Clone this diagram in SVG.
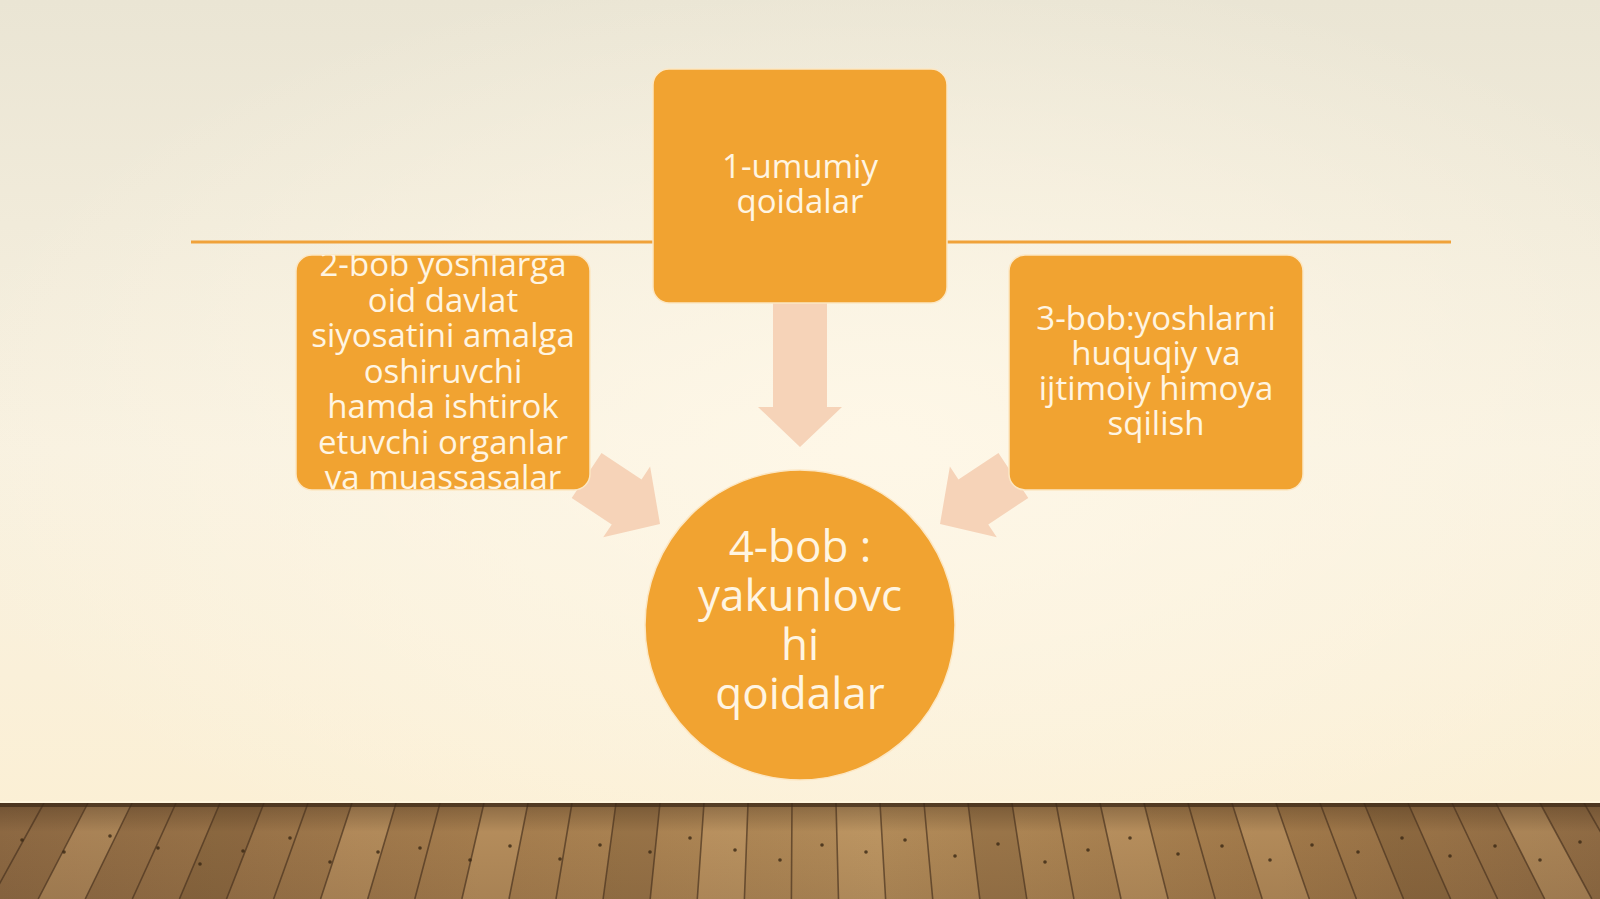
<svg xmlns="http://www.w3.org/2000/svg" width="1600" height="899" viewBox="0 0 1600 899">
<defs>
<linearGradient id="bgLin" x1="0" y1="0" x2="0" y2="1">
<stop offset="0" stop-color="#EAE5D4"/>
<stop offset="0.5" stop-color="#F8F1E0"/>
<stop offset="1" stop-color="#FCEFD2"/>
</linearGradient>
<radialGradient id="bgRad" cx="0.55" cy="0.55" r="0.6">
<stop offset="0" stop-color="#FFF8E8" stop-opacity="0.9"/>
<stop offset="1" stop-color="#FFF8E8" stop-opacity="0"/>
</radialGradient>
<linearGradient id="floor" x1="0" y1="0" x2="1" y2="0">
<stop offset="0" stop-color="#8C6842"/>
<stop offset="0.3" stop-color="#A47C4D"/>
<stop offset="0.55" stop-color="#B18A58"/>
<stop offset="0.8" stop-color="#A07849"/>
<stop offset="1" stop-color="#8E6A43"/>
</linearGradient>
<linearGradient id="floorV" x1="0" y1="0" x2="0" y2="1">
<stop offset="0" stop-color="#3E2A18" stop-opacity="0.35"/>
<stop offset="0.3" stop-color="#3E2A18" stop-opacity="0"/>
<stop offset="1" stop-color="#3E2A18" stop-opacity="0.1"/>
</linearGradient>
<clipPath id="cLeft"><rect x="296" y="255" width="294" height="235" rx="16"/></clipPath>
</defs>
<style>
.box{fill:#F1A331;stroke:#FCE7C4;stroke-width:1.5}
.arrow{fill:#F6D3B8}
.txt{font-family:"Open Sans","Noto Sans","DejaVu Sans",sans-serif;fill:#FFF5E2;text-anchor:middle;font-size:33px}
.big{font-size:44px}
.plank{stroke:#4A3320;stroke-width:1.6;stroke-opacity:0.7;fill:none}
.light{fill:#C7A06C;opacity:0.45}
.dark{fill:#6E4E2E;opacity:0.3}
.nail{fill:#3A2814;opacity:0.8}
</style>

<!-- background -->
<rect x="0" y="0" width="1600" height="899" fill="url(#bgLin)"/>
<rect x="0" y="0" width="1600" height="803" fill="url(#bgRad)"/>

<!-- floor -->
<g id="floor-area">
<rect x="0" y="803" width="1600" height="96" fill="url(#floor)"/>
<polygon class="light" points="88,803 132,803 85.2,899 38.2,899"/>
<polygon class="dark" points="220,803 264,803 226.5,899 179.4,899"/>
<polygon class="light" points="352,803 396,803 367.7,899 320.6,899"/>
<polygon class="light" points="484,803 528,803 509,899 461.9,899"/>
<polygon class="dark" points="616,803 660,803 650.2,899 603.1,899"/>
<polygon class="light" points="704,803 748,803 744.4,899 697.3,899"/>
<polygon class="light" points="836,803 880,803 885.6,899 838.5,899"/>
<polygon class="dark" points="968,803 1012,803 1026.8,899 979.8,899"/>
<polygon class="light" points="1100,803 1144,803 1168.1,899 1121,899"/>
<polygon class="light" points="1232,803 1276,803 1309.3,899 1262.2,899"/>
<polygon class="dark" points="1364,803 1408,803 1450.6,899 1403.5,899"/>
<polygon class="light" points="1496,803 1540,803 1591.8,899 1544.7,899"/>
<rect x="0" y="803" width="1600" height="96" fill="url(#floorV)"/>
<path class="plank" d="M0,803L-56,899M44,803L-8.9,899M88,803L38.2,899M132,803L85.2,899M176,803L132.3,899M220,803L179.4,899M264,803L226.5,899M308,803L273.6,899M352,803L320.6,899M396,803L367.7,899M440,803L414.8,899M484,803L461.9,899M528,803L509,899M572,803L556,899M616,803L603.1,899M660,803L650.2,899M704,803L697.3,899M748,803L744.4,899M792,803L791.4,899M836,803L838.5,899M880,803L885.6,899M924,803L932.7,899M968,803L979.8,899M1012,803L1026.8,899M1056,803L1073.9,899M1100,803L1121,899M1144,803L1168.1,899M1188,803L1215.2,899M1232,803L1262.2,899M1276,803L1309.3,899M1320,803L1356.4,899M1364,803L1403.5,899M1408,803L1450.6,899M1452,803L1497.6,899M1496,803L1544.7,899M1540,803L1591.8,899M1584,803L1638.9,899"/>
<g class="nail">
<circle cx="22" cy="840" r="1.8"/><circle cx="64" cy="852" r="1.8"/><circle cx="110" cy="836" r="1.8"/><circle cx="158" cy="848" r="1.8"/>
<circle cx="200" cy="864" r="1.8"/><circle cx="243" cy="851" r="1.8"/><circle cx="290" cy="838" r="1.8"/><circle cx="330" cy="862" r="1.8"/>
<circle cx="378" cy="852" r="1.8"/><circle cx="420" cy="848" r="1.8"/><circle cx="470" cy="860" r="1.8"/><circle cx="510" cy="846" r="1.8"/>
<circle cx="560" cy="859" r="1.8"/><circle cx="600" cy="845" r="1.8"/><circle cx="650" cy="852" r="1.8"/><circle cx="690" cy="838" r="1.8"/>
<circle cx="735" cy="850" r="1.8"/><circle cx="780" cy="860" r="1.8"/><circle cx="822" cy="845" r="1.8"/><circle cx="866" cy="852" r="1.8"/>
<circle cx="905" cy="840" r="1.8"/><circle cx="955" cy="856" r="1.8"/><circle cx="998" cy="844" r="1.8"/><circle cx="1045" cy="862" r="1.8"/>
<circle cx="1088" cy="850" r="1.8"/><circle cx="1130" cy="838" r="1.8"/><circle cx="1178" cy="854" r="1.8"/><circle cx="1222" cy="846" r="1.8"/>
<circle cx="1270" cy="860" r="1.8"/><circle cx="1312" cy="845" r="1.8"/><circle cx="1358" cy="852" r="1.8"/><circle cx="1402" cy="838" r="1.8"/>
<circle cx="1450" cy="856" r="1.8"/><circle cx="1495" cy="846" r="1.8"/><circle cx="1540" cy="860" r="1.8"/><circle cx="1580" cy="842" r="1.8"/>
</g>
<rect x="0" y="801" width="1600" height="2" fill="#FFF6DE"/>
<rect x="0" y="803" width="1600" height="4" fill="#3C2A18" opacity="0.7"/>
</g>

<!-- divider line -->
<line x1="191" y1="242" x2="1451" y2="242" stroke="#F0A23A" stroke-width="3"/>

<!-- connectors -->
<g id="connectors">
<polygon class="arrow" points="800,447 842,407 827,407 827,300 773,300 773,407 758,407"/>
<polygon class="arrow" transform="translate(660,524) rotate(33.5)" points="0,0 -40,-42.5 -40,-27 -88,-27 -88,27 -40,27 -40,42.5"/>
<polygon class="arrow" transform="translate(940,524) scale(-1,1) rotate(33.5)" points="0,0 -40,-42.5 -40,-27 -88,-27 -88,27 -40,27 -40,42.5"/>
</g>

<g id="node1">
<rect class="box" x="653" y="69" width="294" height="234" rx="16"/>
<text class="txt" x="800" y="178">1-umumiy</text>
<text class="txt" x="800" y="213">qoidalar</text>
</g>

<g id="node2">
<rect class="box" x="296" y="255" width="294" height="235" rx="16"/>
<g clip-path="url(#cLeft)">
<text class="txt" x="443" y="276">2-bob yoshlarga</text>
<text class="txt" x="443" y="312">oid davlat</text>
<text class="txt" x="443" y="347">siyosatini amalga</text>
<text class="txt" x="443" y="383">oshiruvchi</text>
<text class="txt" x="443" y="418">hamda ishtirok</text>
<text class="txt" x="443" y="454">etuvchi organlar</text>
<text class="txt" x="443" y="489">va muassasalar</text>
</g>
</g>

<g id="node3">
<rect class="box" x="1009" y="255" width="294" height="235" rx="16"/>
<text class="txt" x="1156" y="330">3-bob:yoshlarni</text>
<text class="txt" x="1156" y="365">huquqiy va</text>
<text class="txt" x="1156" y="400">ijtimoiy himoya</text>
<text class="txt" x="1156" y="435">sqilish</text>
</g>

<g id="node4">
<circle class="box" cx="800" cy="625" r="155"/>
<text class="txt big" x="800" y="562">4-bob :</text>
<text class="txt big" x="800" y="611">yakunlovc</text>
<text class="txt big" x="800" y="660">hi</text>
<text class="txt big" x="800" y="709">qoidalar</text>
</g>
</svg>
